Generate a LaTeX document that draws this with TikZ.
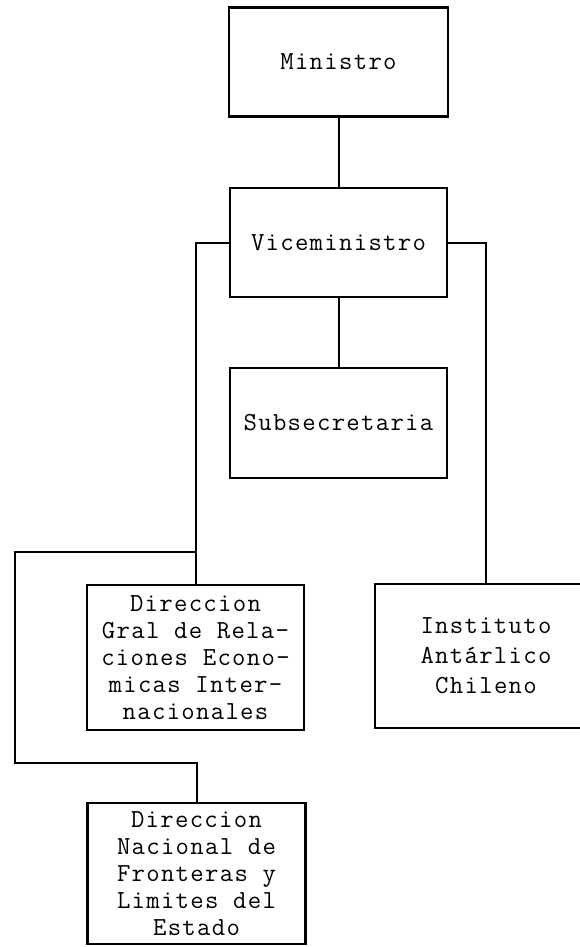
\documentclass[tikz,border=0pt]{standalone}
\usepackage{fontspec}
\newfontfamily\orgfont{Latin Modern Mono}[LetterSpace=5.0]
\begin{document}
\begin{tikzpicture}[x=1pt,y=-1pt,
  unit/.style={draw, line width=2.6pt, align=center, inner sep=0pt,
    minimum width=217pt, font=\orgfont\fontsize{26}{27}\selectfont},
  link/.style={line width=2pt}]
\useasboundingbox (0,0) rectangle (580,947);
\clip (0,0) rectangle (580,947);
\node[unit, minimum width=219pt, minimum height=109pt] (min) at (338.5,62) {Ministro};
\node[unit, minimum height=109pt] (vice) at (338.5,242.5) {Viceministro};
\node[unit, minimum height=110pt] (sub) at (338.5,423) {Subsecretaria};
\node[unit, minimum height=145pt] (dgral) at (195.5,657.5) {Direccion\\Gral de Rela-\\ciones Econo-\\micas Inter-\\nacionales};
\node[unit, minimum width=222pt, minimum height=144pt, font=\orgfont\fontsize{26}{30}\selectfont] (inst) at (486,656) {Instituto\\Antárlico\\Chileno};
\node[unit, minimum width=218pt, minimum height=141pt] (dnac) at (196.5,873.5) {Direccion\\Nacional de\\Fronteras y\\Limites del\\Estado};
\coordinate (split) at (195.5,552);
\coordinate (lft) at (15,763);
\draw[link] (min) -- (vice);
\draw[link] (vice) -- (sub);
\draw[link] (vice.west) -| (dgral.north);
\draw[link] (vice.east) -| (inst.north);
\draw[link] (split) -| (lft) -| (dnac.north);
\end{tikzpicture}
\end{document}
